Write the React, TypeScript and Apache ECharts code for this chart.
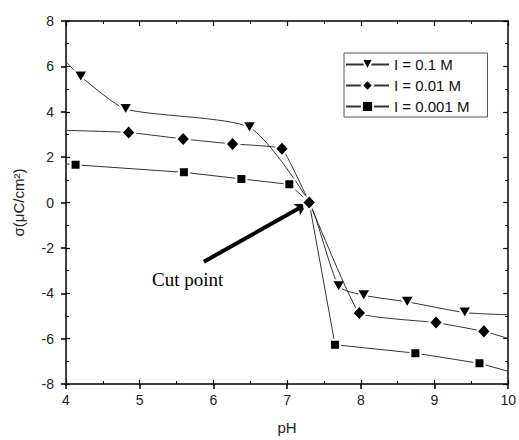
import React, { useEffect, useRef } from "react";
import * as echarts from "echarts";

// Surface charge density vs pH
// (first and last entries are the fitted curve ends at the axis edges, drawn without markers)
const phTri = [4, 4.2, 4.81, 6.49, 7.3, 7.7, 8.04, 8.63, 9.41, 10];
const sigmaTri = [6.21, 5.55, 4.12, 3.31, 0, -3.69, -4.09, -4.38, -4.85, -4.95];
const phDia = [4, 4.85, 5.59, 6.26, 6.93, 7.3, 7.98, 9.02, 9.67, 10];
const sigmaDia = [3.18, 3.09, 2.8, 2.58, 2.37, 0, -4.87, -5.29, -5.68, -5.99];
const phSq = [4, 4.13, 5.6, 6.38, 7.03, 7.3, 7.65, 8.74, 9.61, 10];
const sigmaSq = [1.7, 1.66, 1.33, 1.04, 0.8, 0, -6.27, -6.64, -7.09, -7.44];

const seriesNames = ["I = 0.1 M", "I = 0.01 M", "I = 0.001 M"];
const arrowFrom = [5.87, -2.61];
const arrowTo = [7.27, -0.06];
const annotation = "Cut point";

const FONT = "'Liberation Sans', Arial, sans-serif";

function makeData(xs: number[], ys: number[]) {
  return xs.map((x, i) => {
    const item: any = { value: [x, ys[i]] };
    if (i === 0 || i === xs.length - 1) item.symbol = "none";
    return item;
  });
}

export default function App() {
  const ref = useRef<HTMLDivElement>(null);
  useEffect(() => {
    if (!ref.current) return;
    const chart = echarts.init(ref.current, null, { renderer: "svg" });
    const xBase = { type: "value", min: 4, max: 10, interval: 1, gridIndex: 0 };
    const yBase = { type: "value", min: -8, max: 8, interval: 2, gridIndex: 0 };
    const lineAx = { show: true, onZero: false, lineStyle: { color: "#000", width: 1.5 } };
    const noLabel = { show: false };
    const noSplit = { show: false };
    const markerStyle = { color: "#000", borderColor: "#fff", borderWidth: 2 };
    const lineStyle = { color: "#333", width: 1 };

    chart.setOption({
      animation: false,
      backgroundColor: "#fff",
      grid: { left: 66, right: 8, top: 21, bottom: 55 },
      legend: {
        data: seriesNames,
        orient: "vertical",
        left: 344,
        top: 53,
        itemWidth: 43,
        itemHeight: 14,
        itemGap: 6,
        borderColor: "#555",
        borderWidth: 1,
        padding: [4, 18, 3, 1],
        textStyle: { fontFamily: FONT, fontSize: 15, color: "#111" },
      },
      xAxis: [
        {
          ...xBase,
          position: "bottom",
          name: "pH",
          nameLocation: "middle",
          nameGap: 36,
          nameTextStyle: { fontFamily: FONT, fontSize: 15, color: "#222" },
          axisLine: lineAx,
          axisTick: { show: true, inside: false, length: 5, lineStyle: { color: "#000", width: 1.5 } },
          axisLabel: { fontFamily: FONT, fontSize: 14, color: "#222", margin: 9 },
          splitLine: noSplit,
        },
        {
          ...xBase,
          position: "top",
          axisLine: lineAx,
          axisTick: { show: true, inside: true, length: 5, lineStyle: { color: "#000", width: 1.2 } },
          minorTick: { show: true, splitNumber: 2, length: 3, lineStyle: { color: "#000", width: 1 } },
          axisLabel: noLabel,
          splitLine: noSplit,
        },
        {
          ...xBase,
          position: "bottom",
          axisLine: { show: false, onZero: false },
          axisTick: { show: true, inside: true, length: 4, lineStyle: { color: "#000", width: 1.2 } },
          minorTick: { show: true, splitNumber: 2, length: 3, lineStyle: { color: "#000", width: 1 } },
          axisLabel: noLabel,
          splitLine: noSplit,
        },
      ],
      yAxis: [
        {
          ...yBase,
          position: "left",
          name: "σ(μC/cm²)",
          nameLocation: "middle",
          nameGap: 40,
          nameTextStyle: { fontFamily: FONT, fontSize: 15, color: "#222" },
          axisLine: lineAx,
          axisTick: { show: true, inside: false, length: 5, lineStyle: { color: "#000", width: 1.5 } },
          axisLabel: { fontFamily: FONT, fontSize: 14, color: "#222", margin: 12 },
          splitLine: noSplit,
        },
        {
          ...yBase,
          position: "right",
          axisLine: lineAx,
          axisTick: { show: true, inside: true, length: 5, lineStyle: { color: "#000", width: 1.2 } },
          minorTick: { show: true, splitNumber: 2, length: 3, lineStyle: { color: "#000", width: 1 } },
          axisLabel: noLabel,
          splitLine: noSplit,
        },
        {
          ...yBase,
          position: "left",
          axisLine: { show: false, onZero: false },
          axisTick: { show: true, inside: true, length: 4, lineStyle: { color: "#000", width: 1.2 } },
          minorTick: { show: true, splitNumber: 2, length: 3, lineStyle: { color: "#000", width: 1 } },
          axisLabel: noLabel,
          splitLine: noSplit,
        },
      ],
      series: [
        {
          name: seriesNames[0],
          type: "line",
          xAxisIndex: 0,
          yAxisIndex: 0,
          data: makeData(phTri, sigmaTri),
          smooth: 0.2,
          symbol: "path://M0 0L2 0L1 1.75Z",
          symbolSize: [14, 12],
          itemStyle: markerStyle,
          lineStyle,
          z: 3,
        },
        {
          name: seriesNames[1],
          type: "line",
          xAxisIndex: 0,
          yAxisIndex: 0,
          data: makeData(phDia, sigmaDia),
          smooth: 0.1,
          symbol: "diamond",
          symbolSize: [14, 15],
          itemStyle: markerStyle,
          lineStyle,
          z: 6,
        },
        {
          name: seriesNames[2],
          type: "line",
          xAxisIndex: 0,
          yAxisIndex: 0,
          data: makeData(phSq, sigmaSq),
          symbol: "rect",
          symbolSize: 10,
          itemStyle: markerStyle,
          lineStyle,
          z: 5,
          markLine: {
            silent: true,
            symbol: ["none", "arrow"],
            symbolSize: [10, 12],
            label: { show: false },
            lineStyle: { color: "#000", width: 4, type: "solid" },
            data: [[{ coord: arrowFrom }, { coord: arrowTo }]],
          },
        },
      ],
      graphic: [
        {
          type: "text",
          left: 152,
          top: 270,
          style: {
            text: annotation,
            fontFamily: "'Liberation Serif', 'Times New Roman', serif",
            fontSize: 19,
            fill: "#000",
          },
        },
      ],
    });
    return () => chart.dispose();
  }, []);
  return (
    <div
      ref={ref}
      style={{ position: "fixed", left: 0, top: 0, width: 519, height: 440, background: "#fff" }}
    />
  );
}
